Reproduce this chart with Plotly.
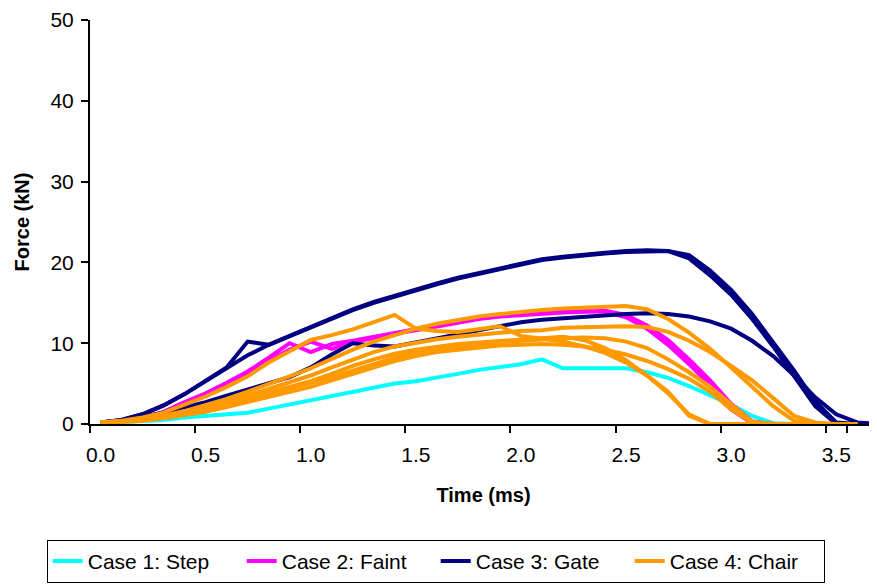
import plotly.graph_objects as go

# time categories (ms)
time = [round(i * 0.1, 1) for i in range(38)]
cats = [f"{t:.1f}" for t in time]

# Case 1: Step
case1_step = [0.1, 0.2, 0.3, 0.5, 0.8, 1.0, 1.2, 1.4, 1.9, 2.4, 2.9, 3.4, 4.0, 4.5, 5.0, 5.3, 5.7, 6.2, 6.7, 7.1,
              7.4, 8.0, 6.9, 6.9, 6.9, 6.9, 6.4, 5.7, 4.7, 3.6, 2.4, 1.0, 0.1, 0.0]

# Case 2: Faint (two runs)
case2_faint_a = [0.2, 0.4, 0.8, 1.5, 2.7, 3.8, 5.1, 6.5, 8.2, 10.0, 8.9, 9.9, 10.3, 10.8, 11.3, 11.7, 12.2, 12.7, 13.1, 13.4,
                 13.6, 13.8, 13.9, 14.0, 13.9, 13.2, 11.8, 9.8, 7.4, 4.8, 1.8, 0.1, 0.0]
case2_faint_b = [0.2, 0.4, 0.8, 1.4, 2.6, 3.7, 5.0, 6.4, 7.7, 9.2, 10.2, 9.3, 10.1, 10.7, 11.2, 11.6, 12.1, 12.6, 13.0, 13.3,
                 13.5, 13.7, 13.8, 13.9, 14.0, 13.5, 12.2, 10.4, 8.0, 5.4, 2.5, 0.3, 0.0]

# Case 3: Gate (three runs)
case3_gate_a = [0.2, 0.5, 1.2, 2.3, 3.7, 5.3, 7.0, 10.2, 9.8, 10.9, 12.0, 13.1, 14.2, 15.1, 15.9, 16.6, 17.4, 18.1, 18.7, 19.3,
                19.9, 20.4, 20.7, 21.0, 21.2, 21.4, 21.5, 21.4, 20.9, 19.0, 16.6, 13.6, 10.2, 6.6, 2.8, 0.2, 0.0]
case3_gate_b = [0.2, 0.5, 1.2, 2.3, 3.7, 5.3, 7.0, 8.5, 9.8, 10.9, 11.9, 13.0, 14.1, 15.0, 15.8, 16.5, 17.3, 18.0, 18.6, 19.2,
                19.8, 20.3, 20.6, 20.9, 21.1, 21.3, 21.4, 21.4, 20.5, 18.4, 16.0, 13.0, 9.6, 6.0, 2.2, 0.0, 0.0]
case3_gate_c = [0.2, 0.4, 0.8, 1.4, 2.0, 2.7, 3.5, 4.3, 5.0, 5.8, 7.0, 8.6, 10.0, 9.7, 9.6, 10.1, 10.6, 11.2, 11.7, 12.2,
                12.6, 12.9, 13.1, 13.2, 13.4, 13.6, 13.7, 13.6, 13.3, 12.7, 11.8, 10.3, 8.4, 6.0, 3.3, 1.2, 0.2, 0.0]

# Case 4: Chair (six runs)
case4_chair_a = [0.2, 0.4, 0.8, 1.4, 2.4, 3.4, 4.6, 5.9, 7.6, 9.0, 10.4, 11.0, 11.7, 12.6, 13.5, 11.8, 11.5, 11.4, 11.7, 12.1,
                 10.9, 10.5, 10.2, 9.6, 8.8, 7.6, 6.0, 4.0, 1.0, 0.0, 0.0, 0.0, 0.0, 0.0, 0.0, 0.0, 0.0]
case4_chair_b = [0.2, 0.3, 0.6, 1.0, 1.6, 2.3, 3.1, 4.0, 4.9, 5.9, 6.9, 8.1, 9.2, 10.2, 11.0, 11.8, 12.4, 12.9, 13.3, 13.6,
                 13.9, 14.1, 14.3, 14.4, 14.5, 14.6, 14.2, 13.0, 11.3, 9.3, 7.0, 4.6, 2.2, 0.4, 0.0, 0.0, 0.0]
case4_chair_c = [0.2, 0.3, 0.5, 0.9, 1.4, 2.0, 2.7, 3.5, 4.3, 5.1, 6.0, 7.0, 8.0, 8.9, 9.6, 10.1, 10.5, 10.8, 11.1, 11.3,
                 11.5, 11.6, 11.9, 12.0, 12.1, 12.1, 12.0, 11.4, 10.3, 8.9, 7.2, 5.4, 3.2, 1.0, 0.2, 0.0, 0.0]
case4_chair_d = [0.2, 0.3, 0.5, 0.9, 1.3, 1.9, 2.5, 3.2, 3.9, 4.6, 5.3, 6.2, 7.2, 8.0, 8.7, 9.2, 9.6, 9.9, 10.1, 10.3,
                 10.5, 10.7, 10.8, 10.4, 9.4, 7.9, 6.0, 3.8, 1.2, 0.0, 0.0, 0.0, 0.0, 0.0, 0.0, 0.0, 0.0]
case4_chair_e = [0.2, 0.3, 0.5, 0.8, 1.2, 1.7, 2.3, 3.0, 3.6, 4.3, 5.0, 5.8, 6.6, 7.4, 8.2, 8.8, 9.3, 9.6, 9.9, 10.1,
                 10.3, 10.5, 10.6, 10.7, 10.6, 10.2, 9.4, 8.0, 6.4, 4.6, 2.4, 0.3, 0.0, 0.0, 0.0, 0.0, 0.0]
case4_chair_f = [0.1, 0.2, 0.4, 0.7, 1.1, 1.5, 2.1, 2.7, 3.3, 4.0, 4.6, 5.4, 6.2, 7.0, 7.8, 8.4, 8.9, 9.2, 9.5, 9.7,
                 9.8, 9.9, 9.8, 9.6, 9.2, 8.6, 7.8, 6.8, 5.6, 4.0, 1.8, 0.2, 0.0, 0.0, 0.0, 0.0, 0.0]

x_tick_labels = ["0.0", "0.5", "1.0", "1.5", "2.0", "2.5", "3.0", "3.5"]
y_tick_values = [0, 10, 20, 30, 40, 50]

groups = [
    ("Case 1: Step", "#00FFFF", [case1_step]),
    ("Case 2: Faint", "#FF00FF", [case2_faint_a, case2_faint_b]),
    ("Case 3: Gate", "#000080", [case3_gate_a, case3_gate_b, case3_gate_c]),
    ("Case 4: Chair", "#FF9900", [case4_chair_a, case4_chair_b, case4_chair_c, case4_chair_d, case4_chair_e, case4_chair_f]),
]

fig = go.Figure()
for name, color, runs in groups:
    for k, vals in enumerate(runs):
        fig.add_trace(go.Scatter(
            x=cats[:len(vals)], y=vals, mode="lines", name=name,
            legendgroup=name, showlegend=(k == 0),
            line=dict(color=color, width=4),
        ))

FONT = "Liberation Sans, Arial, sans-serif"
fig.update_layout(
    width=869, height=576,
    margin=dict(l=82, r=0, t=12, b=160, autoexpand=False),
    paper_bgcolor="white", plot_bgcolor="white",
    font=dict(family=FONT, size=20, color="black"),
    showlegend=True,
    legend=dict(
        orientation="h", x=-0.055, xanchor="left", y=-0.287, yanchor="top",
        bordercolor="black", borderwidth=1, font=dict(size=21),
        traceorder="normal", entrywidth=149, entrywidthmode="pixels",
    ),
    xaxis=dict(
        type="category", categoryorder="array", categoryarray=cats,
        range=[-0.5, 36.94], tickmode="array", tickvals=x_tick_labels, ticktext=x_tick_labels,
        tickson="boundaries", ticks="outside", ticklen=7, tickwidth=2, tickcolor="black",
        tickangle=0, automargin=False, ticklabelstandoff=11,
        showline=True, linecolor="black", linewidth=2, showgrid=False, zeroline=False,
        title=dict(text="<b>Time (ms)</b>", font=dict(size=20), standoff=23),
        tickfont=dict(size=21),
    ),
    yaxis=dict(
        range=[0, 50], tickmode="array", tickvals=y_tick_values, automargin=False,
        ticks="outside", ticklen=7, tickwidth=2, tickcolor="black", ticklabelstandoff=3,
        showline=True, linecolor="black", linewidth=2, showgrid=False, zeroline=False,
        title=dict(text="<b>Force (kN)</b>", font=dict(size=20), standoff=15),
        tickfont=dict(size=21),
    ),
)

fig.write_html("out.html")
